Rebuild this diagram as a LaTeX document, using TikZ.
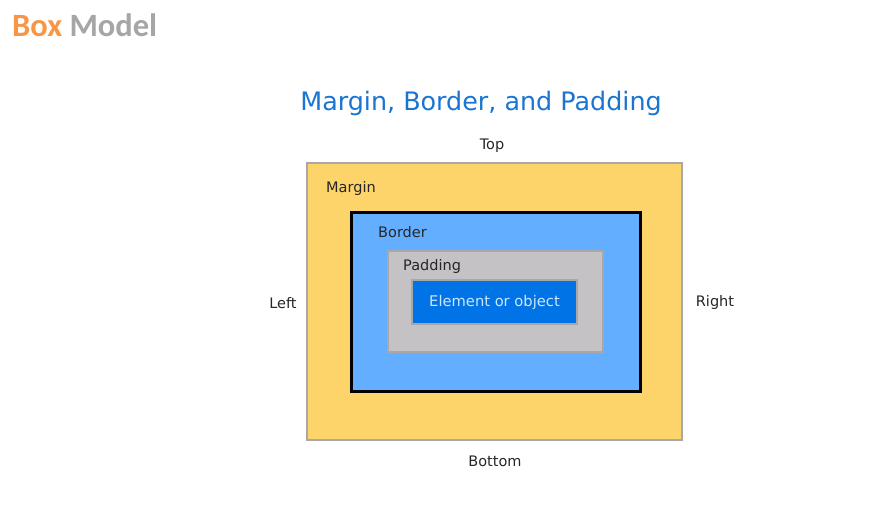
\documentclass[tikz,border=0pt]{standalone}
\usepackage{fontspec}
\setmainfont{DejaVu Sans}
\newfontfamily\headfont{Carlito}
\usetikzlibrary{positioning}
\definecolor{headorange}{HTML}{F79646}
\definecolor{headgray}{HTML}{A6A6A6}
\definecolor{titleblue}{HTML}{1A75D2}
\definecolor{marginfill}{HTML}{FCD46A}
\definecolor{boxedge}{HTML}{A8A8A8}
\definecolor{borderfill}{HTML}{64AEFF}
\definecolor{padfill}{HTML}{C4C2C4}
\definecolor{elemfill}{HTML}{0073E6}
\definecolor{elemtext}{HTML}{CCE6FF}
\tikzset{
  font=\fontsize{14.5}{17}\selectfont,
  %
  layer/.style={rectangle, inner sep=0pt, draw=boxedge, line width=1.5pt},
  marginbox/.style={layer, fill=marginfill},
  borderbox/.style={layer, fill=borderfill, draw=black, line width=3pt},
  padbox/.style={layer, fill=padfill, line width=2pt},
  elembox/.style={layer, fill=elemfill, line width=1.5pt, text=elemtext},
  %
  lbl/.style={inner sep=0pt, anchor=west, text=black!85},
  side/.style={inner sep=0pt, text=black!85},
}
\begin{document}
\begin{tikzpicture}[x=1pt, y=-1pt]
  \useasboundingbox[fill=white] (0,0) rectangle (887,525);

  \node[anchor=west, inner sep=0pt, font=\headfont\bfseries\fontsize{32.5}{36}\selectfont]
    (head) at (12,25) {\textcolor{headorange}{Box} \textcolor{headgray}{Model}};
  \node[inner sep=0pt, text=titleblue, font=\fontsize{25.4}{30}\selectfont]
    (title) at (481,103) {Margin, Border, and Padding};

  % the nested boxes
  \node[marginbox, minimum width=375pt, minimum height=277pt] (margin) at (494.5,301.5) {};
  \node[borderbox, minimum width=289pt, minimum height=179pt] (border) at (495.5,301.5) {};
  \node[padbox, minimum width=215pt, minimum height=101pt] (padding) at (495.5,301.5) {};
  \node[elembox, minimum width=165pt, minimum height=44pt,
        font=\fontsize{14.7}{17}\selectfont] (elem) at (494.5,302) {Element or object};

  \node[lbl] (lmargin) at (326,188) {Margin};
  \node[lbl] (lborder) at (378,232) {Border};
  \node[lbl] (lpad) at (403,266) {Padding};

  % the four sides
  \node[side] (top) at (492,146) {Top};
  \node[side] (bottom) at (495,461) {Bottom};
  \node[side] (left) at (283,303) {Left};
  \node[side] (right) at (715,302) {Right};

\end{tikzpicture}
\end{document}
